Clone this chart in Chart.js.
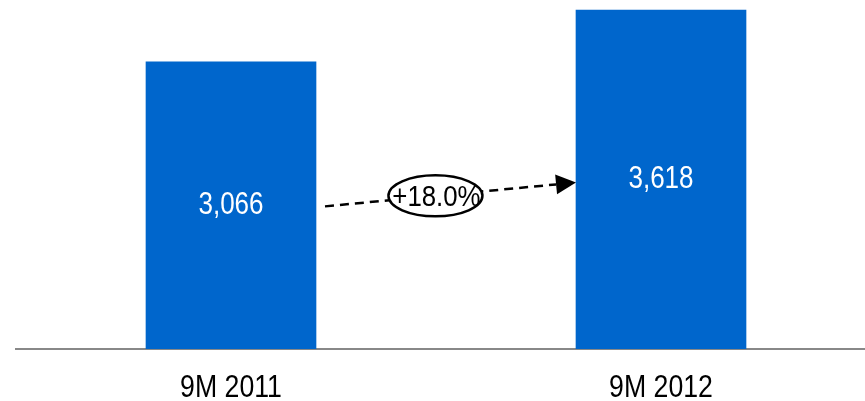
<!DOCTYPE html>
<html>
<head>
<meta charset="utf-8">
<script src="https://cdn.jsdelivr.net/npm/chart.js@4/dist/chart.umd.min.js"></script>
<style>
  html, body { margin: 0; padding: 0; background: #fff; overflow: hidden; }
  #wrap { position: relative; width: 876px; height: 401px; }
</style>
</head>
<body>
<div id="wrap"><canvas id="chart"></canvas></div>
<script>
const categories = ['9M 2011', '9M 2012'];
const values = [3066, 3618];

const BAR_COLOR = '#0066cc';
const FONT = "'Liberation Sans', Arial, sans-serif";

// draw text squeezed horizontally, like a narrow face
function narrowText(ctx, text, x, y, size, squeeze, color) {
  ctx.save();
  ctx.translate(x, y);
  ctx.scale(squeeze, 1);
  ctx.font = size + 'px ' + FONT;
  ctx.fillStyle = color;
  ctx.textAlign = 'center';
  ctx.textBaseline = 'middle';
  ctx.fillText(text, 0, 0);
  ctx.restore();
}

// white value labels centred inside each bar
const valueLabels = {
  id: 'valueLabels',
  afterDatasetsDraw(chart) {
    const meta = chart.getDatasetMeta(0);
    meta.data.forEach((bar, i) => {
      const y = (bar.y + bar.base) / 2;
      narrowText(chart.ctx, values[i].toLocaleString('en-US'), bar.x, y, 31, 0.84, '#ffffff');
    });
  },
};

// category names under the axis, placed at the scale's tick pixels
const categoryLabels = {
  id: 'categoryLabels',
  afterDraw(chart) {
    const xs = chart.scales.x;
    categories.forEach((c, i) => {
      narrowText(chart.ctx, c, xs.getPixelForTick(i), xs.top + 39, 31, 0.86, '#000000');
    });
  },
};

// dashed growth arrow between the bars with the % change in an ellipse
const growthArrow = {
  id: 'growthArrow',
  afterDatasetsDraw(chart) {
    const { ctx } = chart;
    const [b1, b2] = chart.getDatasetMeta(0).data;
    const x0 = b1.x + b1.width / 2 + 9;
    const y0 = (b1.y + b1.base) / 2 + 1;
    const x1 = b2.x - b2.width / 2;
    const y1 = (b2.y + b2.base) / 2 + 3;
    const ang = Math.atan2(y1 - y0, x1 - x0);
    const head = 20;
    const half = 10;
    const cos = Math.cos(ang);
    const sin = Math.sin(ang);

    ctx.save();
    ctx.strokeStyle = '#000';
    ctx.lineWidth = 2.5;
    ctx.setLineDash([9, 6]);
    ctx.beginPath();
    ctx.moveTo(x0, y0);
    ctx.lineTo(x1 - head * cos, y1 - head * sin);
    ctx.stroke();
    ctx.setLineDash([]);

    // arrow head
    ctx.fillStyle = '#000';
    ctx.beginPath();
    ctx.moveTo(x1, y1);
    ctx.lineTo(x1 - head * cos + half * sin, y1 - head * sin - half * cos);
    ctx.lineTo(x1 - head * cos - half * sin, y1 - head * sin + half * cos);
    ctx.closePath();
    ctx.fill();

    // ellipse with growth rate
    const t = 0.44;
    const cx = x0 + (x1 - x0) * t;
    const cy = y0 + (y1 - y0) * t;
    ctx.beginPath();
    ctx.ellipse(cx, cy, 47, 20.5, 0, 0, Math.PI * 2);
    ctx.fillStyle = '#fff';
    ctx.fill();
    ctx.lineWidth = 2.5;
    ctx.stroke();
    ctx.restore();

    const growth = (values[1] / values[0] - 1) * 100;
    narrowText(ctx, '+' + growth.toFixed(1) + '%', cx + 1, cy + 2, 29, 0.89, '#000000');
  },
};

new Chart(document.getElementById('chart'), {
  type: 'bar',
  data: {
    labels: categories,
    datasets: [{
      data: values,
      backgroundColor: BAR_COLOR,
      borderWidth: 0,
      barThickness: 170,
    }],
  },
  options: {
    responsive: true,
    maintainAspectRatio: false,
    animation: false,
    layout: { padding: { left: 16, right: 0, top: 0, bottom: 0 } },
    plugins: {
      legend: { display: false },
      tooltip: { enabled: false },
    },
    scales: {
      x: {
        z: 1,
        grid: { display: false, drawTicks: false },
        border: { display: true, color: '#888888', width: 2 },
        ticks: {
          color: 'rgba(0,0,0,0)',
          font: { family: FONT, size: 30 },
          padding: 22,
        },
        afterFit(scale) { scale.height = 52; },
      },
      y: {
        display: false,
        min: 0,
        max: 3725,
      },
    },
  },
  plugins: [valueLabels, growthArrow, categoryLabels],
});
</script>
</body>
</html>
